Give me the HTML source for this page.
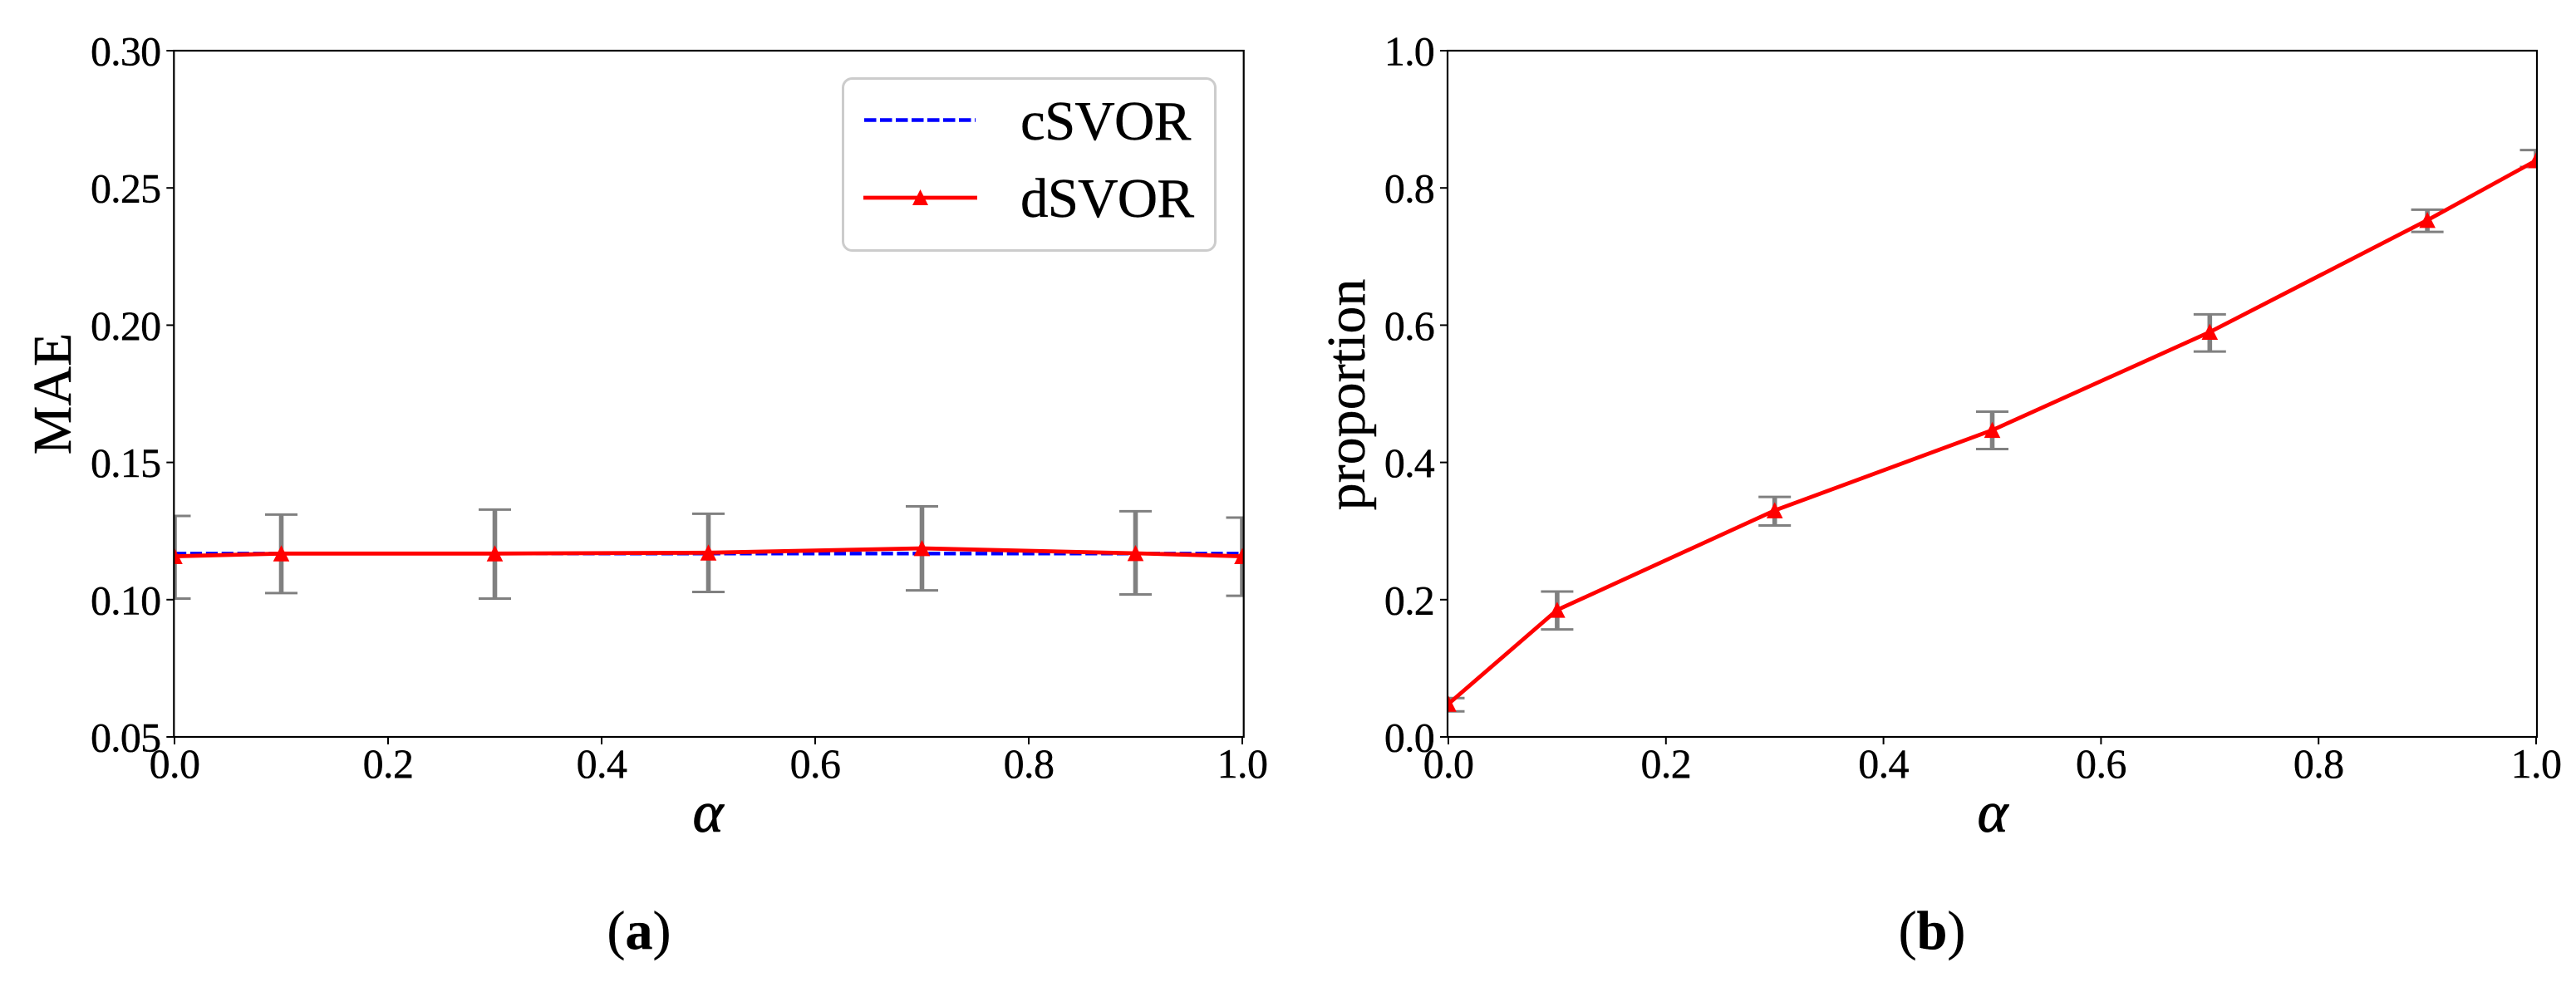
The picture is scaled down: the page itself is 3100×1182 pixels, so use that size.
<!DOCTYPE html>
<html lang="en">
<head>
<meta charset="utf-8">
<title>MAE and proportion versus alpha</title>
<style>
html,body{margin:0;padding:0;background:#fff;width:3100px;height:1182px;overflow:hidden}
svg{display:block}
text{font-family:"Liberation Serif","Noto Serif CJK SC",serif;fill:#000;stroke:#000;stroke-width:0.4px}
</style>
</head>
<body>
<svg id="figure" width="3100" height="1182" viewBox="0 0 3100 1182" xmlns="http://www.w3.org/2000/svg">
  <rect x="0" y="0" width="3100" height="1182" fill="#fff"/>
  <defs>
    <clipPath id="clip-a"><rect x="209" y="60" width="1288" height="828"/></clipPath>
    <clipPath id="clip-b"><rect x="1742" y="60" width="1311" height="828"/></clipPath>
  </defs>
  <g id="panel-a"></g>
  <g id="panel-b"></g>

  <text transform="translate(85,474) rotate(-90)" text-anchor="middle" font-size="66">MAE</text>
  <text x="852" y="1001" text-anchor="middle" font-size="70" font-style="italic" style="stroke-width:1px">α</text>
  <text x="769" y="1142" text-anchor="middle" font-size="66">(<tspan font-weight="bold">a</tspan>)</text>

  <text transform="translate(1642,475) rotate(-90)" text-anchor="middle" font-size="66">proportion</text>
  <text x="2398" y="1001" text-anchor="middle" font-size="70" font-style="italic" style="stroke-width:1px">α</text>
  <text x="2325" y="1142" text-anchor="middle" font-size="66">(<tspan font-weight="bold">b</tspan>)</text>

  <g>
    <rect x="1014.5" y="94.5" width="448" height="207" rx="11" ry="11" fill="#fff" stroke="#cccccc" stroke-width="3"/>
    <line x1="1040" y1="144.5" x2="1174" y2="144.5" stroke="#0000ff" stroke-width="4.4" stroke-dasharray="14.5 4.5"/>
    <text x="1228" y="168" font-size="67" letter-spacing="-0.8">cSVOR</text>
    <line x1="1039" y1="238" x2="1176" y2="238" stroke="#ff0000" stroke-width="4.8"/>
    <polygon points="1107.5,228 1117,247 1098,247" fill="#ff0000"/>
    <text x="1228" y="261" font-size="67" letter-spacing="-0.8">dSVOR</text>
  </g>
</svg>
<script>
// Shared x positions and tick labels
const alphaValues = [0.0, 0.1, 0.3, 0.5, 0.7, 0.9, 1.0];
const xTickValues = [0.0, 0.2, 0.4, 0.6, 0.8, 1.0];
const xTickLabels = ["0.0", "0.2", "0.4", "0.6", "0.8", "1.0"];

// Panel (a): MAE
const maeYTickValues = [0.05, 0.10, 0.15, 0.20, 0.25, 0.30];
const maeYTickLabels = ["0.05", "0.10", "0.15", "0.20", "0.25", "0.30"];
const cSvorMae = [0.1168, 0.1168, 0.1168, 0.1168, 0.1168, 0.1168, 0.1168];
const dSvorMae = [0.1158, 0.1168, 0.1168, 0.1171, 0.1187, 0.1169, 0.1158];
const dSvorMaeUpper = [0.1305, 0.1310, 0.1328, 0.1313, 0.1340, 0.1322, 0.1299];
const dSvorMaeLower = [0.1004, 0.1024, 0.1004, 0.1028, 0.1034, 0.1019, 0.1014];

// Panel (b): proportion
const propYTickValues = [0.0, 0.2, 0.4, 0.6, 0.8, 1.0];
const propYTickLabels = ["0.0", "0.2", "0.4", "0.6", "0.8", "1.0"];
const dSvorProp = [0.048, 0.185, 0.330, 0.447, 0.590, 0.753, 0.840];
const dSvorPropUpper = [0.0566, 0.2119, 0.3497, 0.4740, 0.6157, 0.7683, 0.8551];
const dSvorPropLower = [0.0372, 0.1567, 0.3081, 0.4195, 0.5616, 0.7360, 0.8305];

const NS = "http://www.w3.org/2000/svg";

function make(tag, attrs, parent) {
  const node = document.createElementNS(NS, tag);
  for (const key in attrs) node.setAttribute(key, attrs[key]);
  parent.appendChild(node);
  return node;
}

function linearScale(d0, d1, r0, r1) {
  return function (v) { return r0 + (v - d0) * (r1 - r0) / (d1 - d0); };
}

function drawPanel(cfg) {
  const root = document.getElementById(cfg.id);
  const x = linearScale(0, 1, cfg.xLeft, cfg.xRight);
  const y = linearScale(cfg.yMin, cfg.yMax, 887, 61);
  const clipGroup = make("g", { "clip-path": "url(#" + cfg.clip + ")" }, root);
  
  

  if (cfg.reference) {
    const refPts = alphaValues.map(function (a, i) { return x(a) + "," + y(cfg.reference[i]); }).join(" ");
    const refLine = make("polyline", { points: refPts, fill: "none", stroke: "#0000ff", "stroke-width": 4.4, "stroke-dasharray": "14.2 4.7" }, clipGroup);
    
    
  }

  alphaValues.forEach(function (a, i) {
    const px = x(a);
    const top = y(cfg.upper[i]);
    const bottom = y(cfg.lower[i]);
    const bar = make("g", { stroke: "#808080", fill: "none" }, clipGroup);
    
    
    make("line", { x1: px, y1: top, x2: px, y2: bottom, "stroke-width": 5.6 }, bar);
    make("line", { x1: px - 19.5, y1: top, x2: px + 19.5, y2: top, "stroke-width": 3 }, bar);
    make("line", { x1: px - 19.5, y1: bottom, x2: px + 19.5, y2: bottom, "stroke-width": 3 }, bar);
  });

  const pts = alphaValues.map(function (a, i) { return x(a) + "," + y(cfg.values[i]); }).join(" ");
  const mainLine = make("polyline", { points: pts, fill: "none", stroke: "#ff0000", "stroke-width": 4.8, "stroke-linejoin": "round" }, clipGroup);
  
  

  alphaValues.forEach(function (a, i) {
    const px = x(a);
    const py = y(cfg.values[i]);
    const marker = make("polygon", {
      points: px + "," + (py - 10) + " " + (px + 9.8) + "," + (py + 9.4) + " " + (px - 9.8) + "," + (py + 9.4),
      fill: "#ff0000"
    }, clipGroup);
    
    
  });

  xTickValues.forEach(function (v, i) {
    const px = x(v);
    const tick = make("line", { x1: px, y1: 887, x2: px, y2: 896, stroke: "#000", "stroke-width": 2 }, root);
    
    
    const label = make("text", { x: px, y: 936, "text-anchor": "middle", "font-size": 50, "letter-spacing": -0.6 }, root);
    label.textContent = xTickLabels[i];
    
    
  });

  cfg.yTicks.forEach(function (v, i) {
    const py = y(v);
    const tick = make("line", { x1: cfg.spineLeft - 9, y1: py, x2: cfg.spineLeft, y2: py, stroke: "#000", "stroke-width": 2 }, root);
    
    
    const label = make("text", { x: cfg.spineLeft - 16, y: py + 17.5, "text-anchor": "end", "font-size": 50, "letter-spacing": -0.8 }, root);
    label.textContent = cfg.yLabels[i];
    
    
  });

  const frame = make("rect", {
    x: cfg.spineLeft, y: 61, width: cfg.spineRight - cfg.spineLeft, height: 826,
    fill: "none", stroke: "#000", "stroke-width": 2.2
  }, root);
  
  
}

drawPanel({
  id: "panel-a", clip: "clip-a",
  xLeft: 210, xRight: 1495, spineLeft: 209.3, spineRight: 1496.7,
  yMin: 0.05, yMax: 0.30,
  yTicks: maeYTickValues, yLabels: maeYTickLabels,
  reference: cSvorMae, values: dSvorMae, upper: dSvorMaeUpper, lower: dSvorMaeLower
});

drawPanel({
  id: "panel-b", clip: "clip-b",
  xLeft: 1743, xRight: 3052, spineLeft: 1742, spineRight: 3053,
  yMin: 0, yMax: 1,
  yTicks: propYTickValues, yLabels: propYTickLabels,
  reference: null, values: dSvorProp, upper: dSvorPropUpper, lower: dSvorPropLower
});
</script>
</body>
</html>
